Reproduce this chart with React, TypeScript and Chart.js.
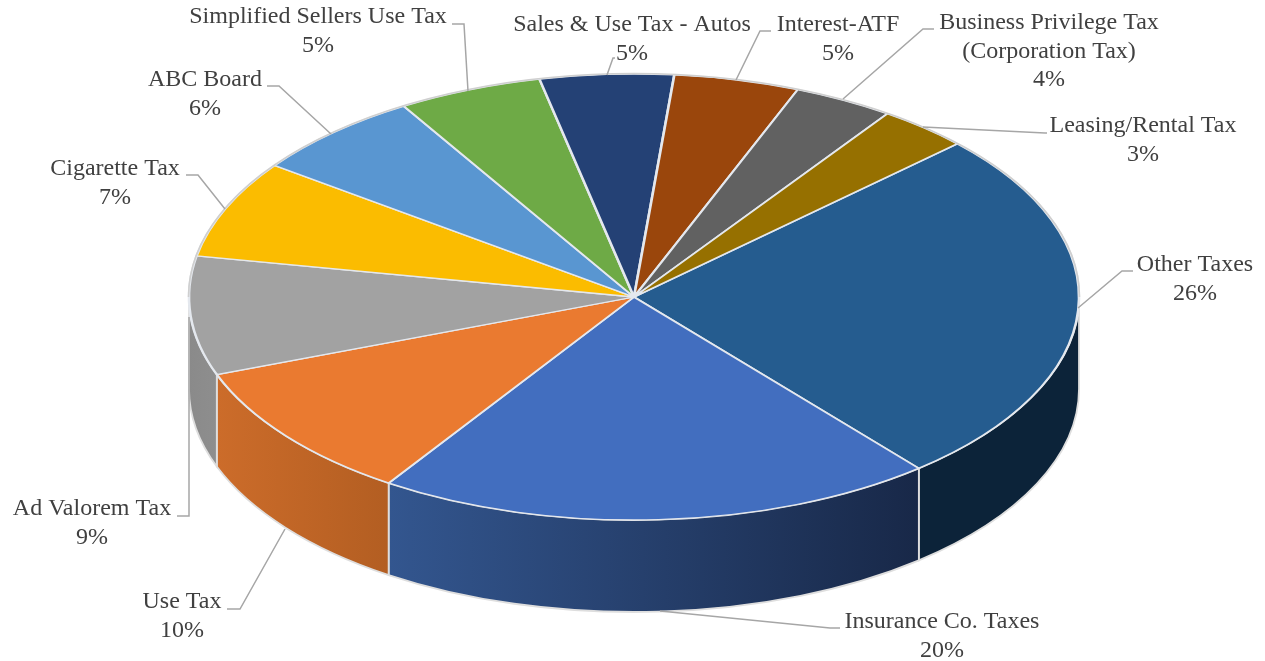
import React, { useEffect, useRef } from "react";
import { Chart, registerables } from "chart.js";

Chart.register(...registerables);

const categories = [
  "Other Taxes",
  "Insurance Co. Taxes",
  "Use Tax",
  "Ad Valorem Tax",
  "Cigarette Tax",
  "ABC Board",
  "Simplified Sellers Use Tax",
  "Sales & Use Tax - Autos",
  "Interest-ATF",
  "Business Privilege Tax (Corporation Tax)",
  "Leasing/Rental Tax",
];
const shares = [26, 20.35, 10.05, 8.6, 7.1, 6.3, 5.25, 4.85, 4.55, 3.65, 3.3];
const percentLabels = ["26%", "20%", "10%", "9%", "7%", "6%", "5%", "5%", "5%", "4%", "3%"];
const topColors = [
  "#255C8F", "#426EBF", "#EA7A30", "#A2A2A2", "#FBBC00", "#5996D1",
  "#6EAA46", "#244175", "#9A460C", "#616161", "#967000",
];
const wallColors: string[][] = [
  ["#0C2339", "#0C2339"],
  ["#33568F", "#182848"],
  ["#CC6C2A", "#B35E22"],
  ["#8A8A8A", "#8E8E8E"],
  ["#997300", "#997300"], ["#375E80", "#375E80"], ["#43682B", "#43682B"], ["#172948", "#172948"],
  ["#5F2B08", "#5F2B08"], ["#3B3B3B", "#3B3B3B"], ["#5C4500", "#5C4500"],
];

const labelLines: string[][] = [
  ["Other Taxes"],
  ["Insurance Co. Taxes"],
  ["Use Tax"],
  ["Ad Valorem Tax"],
  ["Cigarette Tax"],
  ["ABC Board"],
  ["Simplified Sellers Use Tax"],
  ["Sales & Use Tax - Autos"],
  ["Interest-ATF"],
  ["Business Privilege Tax", "(Corporation Tax)"],
  ["Leasing/Rental Tax"],
];
const labelPlacement: { x: number; y: number }[] = [
  { x: 1195, y: 265 },
  { x: 942, y: 622 },
  { x: 182, y: 602 },
  { x: 92, y: 509 },
  { x: 115, y: 169 },
  { x: 205, y: 80 },
  { x: 318, y: 17 },
  { x: 632, y: 25 },
  { x: 838, y: 25 },
  { x: 1049, y: 23 },
  { x: 1143, y: 126 },
];
const leaderPaths: number[][][] = [
  [[1078, 308], [1122, 271], [1133, 271]],
  [[660, 611], [830, 628], [840, 628]],
  [[285, 529], [240, 609], [227, 609]],
  [[189, 317], [189, 516], [177, 516]],
  [[225, 209], [198, 175], [186, 175]],
  [[331, 134], [279, 86], [267, 86]],
  [[468, 91], [464, 24], [452, 24]],
  [[607, 75], [613, 58], [615, 58]],
  [[736, 80], [760, 31], [771, 31]],
  [[843, 99], [923, 29], [934, 29]],
  [[923, 127], [1045, 133], [1047, 133]],
];

const RADIUS = 445;
const SQUASH = 223 / 445;
const DEPTH = 92;
const LINE_HEIGHT = 28.3;

const pie3d = {
  id: "pie3d",
  beforeDatasetsDraw(chart: any) {
    const { ctx } = chart;
    const arcs = chart.getDatasetMeta(0).data;
    const TAU = Math.PI * 2;
    const ry = RADIUS * SQUASH;
    arcs.forEach((arc: any, i: number) => {
      const span = arc.endAngle - arc.startAngle;
      let s = arc.startAngle % TAU;
      if (s < 0) s += TAU;
      [s, s - TAU].forEach((start) => {
        const a1 = Math.max(start, 0);
        const a2 = Math.min(start + span, Math.PI);
        if (a2 <= a1) return;
        const cx = arc.x;
        const cy = arc.y;
        const x1 = cx + RADIUS * Math.cos(a1);
        const x2 = cx + RADIUS * Math.cos(a2);
        const g = ctx.createLinearGradient(Math.min(x1, x2), 0, Math.max(x1, x2), 0);
        g.addColorStop(0, wallColors[i][0]);
        g.addColorStop(1, wallColors[i][1]);
        ctx.save();
        ctx.beginPath();
        ctx.ellipse(cx, cy, RADIUS, ry, 0, a1, a2);
        ctx.ellipse(cx, cy + DEPTH, RADIUS, ry, 0, a2, a1, true);
        ctx.closePath();
        ctx.fillStyle = g;
        ctx.fill();
        ctx.strokeStyle = "#DEDEDE";
        ctx.lineWidth = 1.8;
        ctx.stroke();
        ctx.restore();
      });
    });
    const first = arcs[0];
    ctx.save();
    ctx.translate(first.x, first.y);
    ctx.scale(1, SQUASH);
    ctx.translate(-first.x, -first.y);
  },
  afterDatasetsDraw(chart: any) {
    const { ctx } = chart;
    ctx.restore();
    const first = chart.getDatasetMeta(0).data[0];
    ctx.save();
    ctx.beginPath();
    ctx.ellipse(first.x, first.y, RADIUS + 0.5, RADIUS * SQUASH + 0.5, 0, Math.PI, Math.PI * 2);
    ctx.strokeStyle = "#CFCFCF";
    ctx.lineWidth = 1.6;
    ctx.stroke();

    ctx.strokeStyle = "#A6A6A6";
    ctx.lineWidth = 1.5;
    leaderPaths.forEach((path) => {
      ctx.beginPath();
      path.forEach(([x, y], j) => (j === 0 ? ctx.moveTo(x, y) : ctx.lineTo(x, y)));
      ctx.stroke();
    });

    ctx.fillStyle = "#404040";
    ctx.font = '24px "Liberation Serif"';
    ctx.textAlign = "center";
    ctx.textBaseline = "middle";
    categories.forEach((_, i) => {
      const lines = [...labelLines[i], percentLabels[i]];
      lines.forEach((line, j) => {
        ctx.fillText(line, labelPlacement[i].x, labelPlacement[i].y + j * LINE_HEIGHT);
      });
    });
    ctx.restore();
  },
};

export default function App() {
  const ref = useRef<HTMLCanvasElement | null>(null);
  useEffect(() => {
    const chart = new Chart(ref.current as HTMLCanvasElement, {
      type: "pie",
      data: {
        labels: categories,
        datasets: [
          {
            data: shares,
            backgroundColor: topColors,
            borderColor: "#E4E8EE",
            borderWidth: 2.6,
            clip: false,
          } as any,
        ],
      },
      options: {
        responsive: false,
        animation: false,
        events: [],
        rotation: 46.6,
        radius: RADIUS,
        layout: { padding: { left: 3, bottom: 67 } },
        plugins: { legend: { display: false }, tooltip: { enabled: false } },
      } as any,
      plugins: [pie3d],
    });
    return () => chart.destroy();
  }, []);
  return (
    <div style={{ position: "absolute", left: 0, top: 0, width: 1265, height: 661, background: "#fff" }}>
      <canvas ref={ref} width={1265} height={661} style={{ display: "block" }} />
    </div>
  );
}
